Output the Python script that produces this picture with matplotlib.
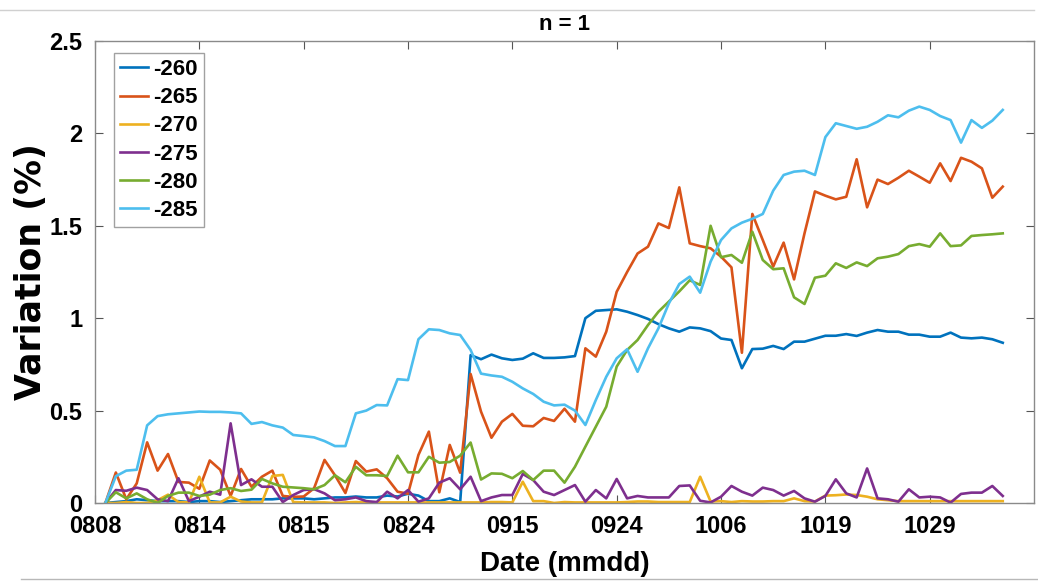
import numpy as np
import matplotlib.pyplot as plt
from matplotlib.lines import Line2D

# 每条曲线的变化率 (%), 共 87 个采样点
v260 = [0, 0.005, 0.01, 0.02, 0.015, 0.01, 0.01, 0.01, 0.005, 0.01,
        0.01, 0.005, 0.01, 0.015, 0.02, 0.02, 0.02, 0.025, 0.025, 0.025,
        0.02, 0.025, 0.03, 0.03, 0.035, 0.03, 0.03, 0.04, 0.035, 0.05,
        0.04, 0.01, 0.01, 0.025, 0.005, 0.80, 0.778, 0.803, 0.783, 0.774,
        0.781, 0.81, 0.785, 0.785, 0.788, 0.795, 1.0, 1.04, 1.044, 1.048,
        1.035, 1.017, 0.996, 0.968, 0.945, 0.927, 0.95, 0.945, 0.93, 0.89,
        0.882, 0.729, 0.833, 0.835, 0.85, 0.833, 0.873, 0.873, 0.889, 0.905,
        0.905, 0.914, 0.904, 0.922, 0.936, 0.927, 0.927, 0.911, 0.911, 0.9,
        0.9, 0.922, 0.895, 0.891, 0.895, 0.886, 0.867]
v265 = [0, 0.165, 0.02, 0.106, 0.328, 0.175, 0.265, 0.114, 0.11, 0.077,
        0.23, 0.18, 0.038, 0.184, 0.088, 0.142, 0.175, 0.038, 0.033, 0.035,
        0.08, 0.233, 0.15, 0.054, 0.227, 0.17, 0.182, 0.134, 0.061, 0.05,
        0.26, 0.386, 0.058, 0.314, 0.164, 0.698, 0.494, 0.353, 0.44, 0.482,
        0.418, 0.415, 0.46, 0.444, 0.51, 0.44, 0.837, 0.792, 0.927, 1.143,
        1.25, 1.35, 1.387, 1.513, 1.488, 1.708, 1.405, 1.39, 1.378, 1.333,
        1.275, 0.813, 1.564, 1.423, 1.279, 1.409, 1.21, 1.459, 1.686, 1.663,
        1.643, 1.657, 1.86, 1.6, 1.75, 1.726, 1.76, 1.798, 1.766, 1.733,
        1.838, 1.742, 1.868, 1.847, 1.811, 1.652, 1.712]
v270 = [0, 0, 0.005, 0, 0, 0.015, 0.045, 0.005, 0.003, 0.142,
        0.003, 0.003, 0.034, 0.008, 0.003, 0.003, 0.146, 0.152, 0.005, 0.003,
        0.003, 0.003, 0.0, 0.003, 0.005, 0.003, 0.003, 0.003, 0.003, 0.003,
        0.003, 0.003, 0.003, 0.003, 0.003, 0.003, 0.003, 0.005, 0.005, 0.003,
        0.115, 0.01, 0.01, 0.0, 0.005, 0.003, 0.003, 0.003, 0.003, 0.003,
        0.005, 0.008, 0.008, 0.005, 0.005, 0.005, 0.005, 0.142, 0.008, 0.01,
        0.005, 0.01, 0.008, 0.008, 0.01, 0.01, 0.025, 0.01, 0.008, 0.04,
        0.042, 0.046, 0.043, 0.034, 0.02, 0.015, 0.01, 0.01, 0.01, 0.01,
        0.01, 0.01, 0.01, 0.01, 0.01, 0.01, 0.01]
v275 = [0, 0.07, 0.066, 0.083, 0.07, 0.02, 0.01, 0.134, 0.01, 0.034,
        0.061, 0.045, 0.431, 0.097, 0.128, 0.088, 0.088, 0.005, 0.043, 0.07,
        0.075, 0.052, 0.015, 0.02, 0.03, 0.01, 0.005, 0.061, 0.025, 0.07,
        0.007, 0.025, 0.11, 0.134, 0.074, 0.142, 0.01, 0.03, 0.043, 0.043,
        0.157, 0.124, 0.061, 0.043, 0.07, 0.097, 0.007, 0.07, 0.025, 0.13,
        0.025, 0.038, 0.03, 0.03, 0.03, 0.092, 0.095, 0.012, 0.003, 0.034,
        0.092, 0.061, 0.04, 0.083, 0.07, 0.04, 0.065, 0.025, 0.007, 0.038,
        0.128, 0.052, 0.03, 0.187, 0.025, 0.02, 0.007, 0.074, 0.03, 0.034,
        0.03, 0.002, 0.049, 0.056, 0.056, 0.092, 0.038]
v280 = [0, 0.058, 0.025, 0.052, 0.02, 0.0, 0.038, 0.056, 0.056, 0.038,
        0.045, 0.07, 0.08, 0.065, 0.072, 0.13, 0.106, 0.088, 0.084, 0.08,
        0.074, 0.097, 0.15, 0.112, 0.196, 0.15, 0.15, 0.146, 0.256, 0.166,
        0.166, 0.25, 0.218, 0.222, 0.256, 0.327, 0.127, 0.16, 0.158, 0.134,
        0.173, 0.124, 0.175, 0.175, 0.11, 0.196, 0.305, 0.413, 0.521, 0.738,
        0.828, 0.882, 0.963, 1.035, 1.09, 1.145, 1.205, 1.18, 1.5, 1.33,
        1.342, 1.3, 1.468, 1.315, 1.265, 1.27, 1.113, 1.077, 1.219, 1.23,
        1.297, 1.272, 1.302, 1.282, 1.324, 1.333, 1.347, 1.39, 1.401, 1.387,
        1.459, 1.39, 1.394, 1.445, 1.45, 1.454, 1.459]
v285 = [0, 0.145, 0.175, 0.18, 0.42, 0.47, 0.48, 0.485, 0.49, 0.495,
        0.493, 0.493, 0.49, 0.485, 0.428, 0.438, 0.42, 0.408, 0.368, 0.362,
        0.355, 0.335, 0.308, 0.308, 0.485, 0.5, 0.53, 0.528, 0.67, 0.665,
        0.886, 0.94, 0.936, 0.918, 0.909, 0.828, 0.70, 0.69, 0.683, 0.656,
        0.62, 0.59, 0.548, 0.528, 0.532, 0.5, 0.422, 0.557, 0.683, 0.783,
        0.832, 0.71, 0.837, 0.945, 1.08, 1.185, 1.225, 1.138, 1.306, 1.423,
        1.486, 1.517, 1.538, 1.564, 1.69, 1.775, 1.793, 1.798, 1.775, 1.98,
        2.055, 2.04, 2.025, 2.036, 2.063, 2.098, 2.087, 2.123, 2.145, 2.127,
        2.094, 2.072, 1.95, 2.072, 2.03, 2.069, 2.127]

labels = ['-260', '-265', '-270', '-275', '-280', '-285']
series = [v260, v265, v270, v275, v280, v285]
colors = ['#0072BD', '#D95319', '#EDB120', '#7E2F8E', '#77AC30', '#4DBEEE']

tick_pos = [0, 10, 20, 30, 40, 50, 60, 70, 80]
tick_lbl = ['0808', '0814', '0815', '0824', '0915', '0924', '1006', '1019', '1029']

plt.rcParams['font.family'] = ['Liberation Sans', 'DejaVu Sans']
plt.rcParams['font.weight'] = 'bold'

fig = plt.figure(figsize=(10.38, 5.85), dpi=100)
ax = fig.add_axes([0.0915, 0.1402, 0.9047, 0.7897])

x = np.arange(1, len(v260) + 1)
for y, c, lb in zip(series, colors, labels):
    ax.plot(x, y, color=c, lw=1.9, label=lb)

ax.set_xlim(0, 90)
ax.set_ylim(0, 2.5)
ax.set_xticks(tick_pos)
ax.set_xticklabels(tick_lbl)
ax.set_yticks([0, 0.5, 1, 1.5, 2, 2.5])
ax.set_yticklabels(['0', '0.5', '1', '1.5', '2', '2.5'])
ax.tick_params(direction='in', length=6, width=0.8, color='#555555',
               labelsize=17, top=True, right=True)
ax.tick_params(axis='x', pad=9)
ax.tick_params(axis='y', pad=9)
for lab in ax.get_xticklabels() + ax.get_yticklabels():
    lab.set_fontweight('bold')
for s in ax.spines.values():
    s.set_color('#8a8a8a')
    s.set_linewidth(1.0)

ax.set_xlabel('Date (mmdd)', fontsize=20, fontweight='bold', labelpad=9)
ax.set_ylabel('Variation (%)', fontsize=25, fontweight='bold', labelpad=1,
              family=['DejaVu Sans'])
ax.set_title('n = 1', fontsize=16, fontweight='bold', pad=8)

leg = ax.legend(loc='upper left', bbox_to_anchor=(0.02, 0.975), fontsize=16,
                frameon=True, fancybox=False, handlelength=1.25,
                handletextpad=0.2, labelspacing=0.32, borderpad=0.3,
                borderaxespad=0.0)
leg.get_frame().set_edgecolor('#8a8a8a')
leg.get_frame().set_linewidth(1.0)
for t in leg.get_texts():
    t.set_fontweight('bold')

# 截图边框线
fig.add_artist(Line2D([0.0, 0.996], [0.983, 0.983], color='#d0d0d0', lw=1.0))
fig.add_artist(Line2D([0.02, 1.0], [0.01, 0.01], color='#b8b8b8', lw=1.0))

fig.savefig('out.png', dpi=100)
